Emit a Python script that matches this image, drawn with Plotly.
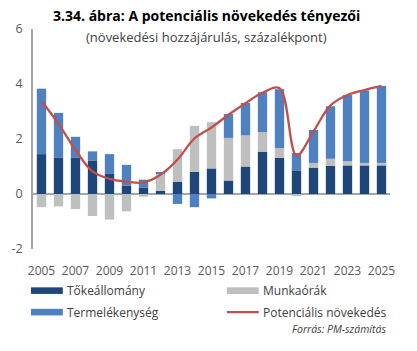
import plotly.graph_objects as go

years = list(range(2005, 2026))
tokeallomany = [1.45, 1.33, 1.33, 1.22, 0.73, 0.31, 0.24, 0.12, 0.45, 0.81, 0.93,
                0.49, 1.00, 1.54, 1.31, 0.86, 0.96, 1.02, 1.04, 1.04, 1.04]
munkaorak = [-0.48, -0.45, -0.55, -0.80, -0.93, -0.63, -0.10, 0.61, 1.18, 1.67, 1.68,
             1.55, 1.13, 0.71, 0.36, -0.08, 0.17, 0.26, 0.16, 0.09, 0.09]
termelekenyseg = [2.38, 1.62, 0.75, 0.33, 0.72, 0.75, 0.28, 0.05, -0.36, -0.48, -0.16,
                  0.87, 1.18, 1.45, 2.14, 0.63, 1.20, 1.91, 2.40, 2.64, 2.80]
potencialis = [3.38, 2.55, 1.60, 0.82, 0.55, 0.45, 0.42, 0.70, 1.25, 2.02, 2.42,
               2.88, 3.30, 3.68, 3.85, 1.40, 2.28, 3.22, 3.60, 3.78, 3.93]
xtick_years = list(range(2005, 2026, 2))
ytick_vals = [-2, 0, 2, 4, 6]

C_DARK = "#1f4679"
C_GRAY = "#bfbfbf"
C_BLUE = "#4f81c0"
C_RED = "#c0504d"
FONT = "Open Sans"
TXT = "#595959"

W, H = 417, 351
L, R, T, B = 31, 390, 29, 249.3


def px(x):
    return (x - L) / (R - L)


def py(y):
    return (B - y) / (B - T)


fig = go.Figure()
fig.add_bar(x=years, y=tokeallomany, name="Tőkeállomány", marker_color=C_DARK,
            marker_line_width=0, showlegend=False)
fig.add_bar(x=years, y=munkaorak, name="Munkaórák", marker_color=C_GRAY,
            marker_line_width=0, showlegend=False)
fig.add_bar(x=years, y=termelekenyseg, name="Termelékenység", marker_color=C_BLUE,
            marker_line_width=0, showlegend=False)
fig.add_scatter(x=years, y=potencialis, name="Potenciális növekedés", mode="lines",
                line=dict(color=C_RED, width=2.3, shape="spline", smoothing=1.0),
                showlegend=False)

shapes = []
annotations = []

# legend
legend_items = [
    (29, 291, "Tőkeállomány", C_DARK, "box"),
    (226, 291, "Munkaórák", C_GRAY, "box"),
    (29, 312.5, "Termelékenység", C_BLUE, "box"),
    (226, 312.5, "Potenciális növekedés", C_RED, "line"),
]
for x0, yc, label, col, kind in legend_items:
    if kind == "box":
        shapes.append(dict(type="rect", xref="paper", yref="paper",
                           x0=px(x0), x1=px(x0 + 32), y0=py(yc + 3.3), y1=py(yc - 3.3),
                           fillcolor=col, line_width=0))
    else:
        shapes.append(dict(type="line", xref="paper", yref="paper",
                           x0=px(x0), x1=px(x0 + 32), y0=py(yc), y1=py(yc),
                           line=dict(color=col, width=2.3)))
    annotations.append(dict(text=label, xref="paper", yref="paper", x=px(x0 + 34.5), y=py(yc),
                            xanchor="left", yanchor="middle", showarrow=False,
                            font=dict(family=FONT, size=12, color="#404040")))

annotations.append(dict(text="<b>3.34. ábra: A potenciális növekedés tényezői</b>",
                        xref="paper", yref="paper", x=px(205), y=py(15),
                        xanchor="center", yanchor="middle", showarrow=False,
                        font=dict(family=FONT, size=14, color="#000000")))
annotations.append(dict(text="(növekedési hozzájárulás, százalékpont)",
                        xref="paper", yref="paper", x=px(205), y=py(37),
                        xanchor="center", yanchor="middle", showarrow=False,
                        font=dict(family=FONT, size=13, color="#404040")))
annotations.append(dict(text="<i>Forrás: PM-számítás</i>",
                        xref="paper", yref="paper", x=px(388), y=py(329),
                        xanchor="right", yanchor="middle", showarrow=False,
                        font=dict(family=FONT, size=10.5, color="#404040")))

fig.update_layout(
    width=W, height=H,
    margin=dict(l=L, r=W - R, t=T, b=H - B),
    paper_bgcolor="white", plot_bgcolor="white",
    barmode="relative", bargap=0.45,
    showlegend=False,
    shapes=shapes, annotations=annotations,
    font=dict(family=FONT, size=12, color=TXT),
    xaxis=dict(range=[2004.5, 2025.5], tickmode="array", tickvals=xtick_years,
               ticktext=[str(v) for v in xtick_years],
               showgrid=False, zeroline=False, showline=False,
               ticks="outside", ticklen=11, tickcolor="rgba(0,0,0,0)",
               tickfont=dict(family=FONT, size=12, color=TXT)),
    yaxis=dict(range=[-2, 6], tickmode="array", tickvals=ytick_vals,
               ticktext=[str(v) for v in ytick_vals],
               showgrid=False, zeroline=True, zerolinecolor="#a6a6a6", zerolinewidth=1.5,
               showline=True, linecolor="#a6a6a6", linewidth=1.5,
               ticks="outside", ticklen=6, tickcolor="rgba(0,0,0,0)",
               tickfont=dict(family=FONT, size=12.5, color=TXT)),
)

fig.write_html("out.html")
